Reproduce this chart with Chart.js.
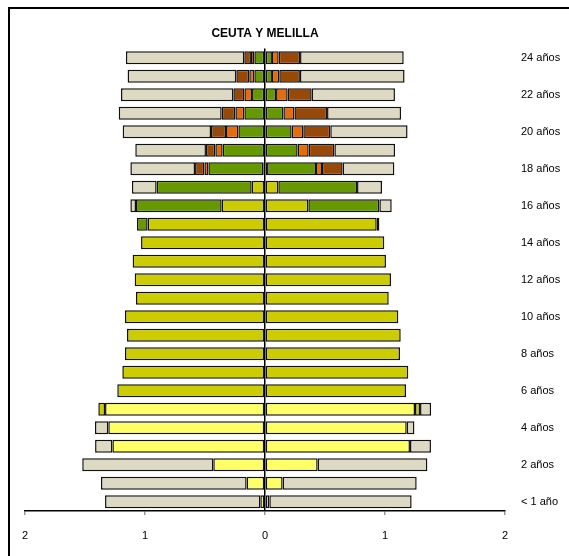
<!DOCTYPE html>
<html>
<head>
<meta charset="utf-8">
<script src="https://cdn.jsdelivr.net/npm/chart.js@4"></script>
<style>
  html, body { margin: 0; padding: 0; background: #fff; }
  #wrap { position: relative; width: 569px; height: 556px; }
</style>
</head>
<body>
<div id="wrap"><canvas id="pyramid" width="569" height="556"></canvas></div>
<script>
// Pyramid data: ages from < 1 to 24, left side = hombres, right side = mujeres
const ages = ['< 1 año', '1 año', '2 años', '3 años', '4 años', '5 años', '6 años', '7 años', '8 años',
    '9 años', '10 años', '11 años', '12 años', '13 años', '14 años', '15 años', '16 años', '17 años',
    '18 años', '19 años', '20 años', '21 años', '22 años', '23 años', '24 años'];

const levels = ['Infantil', 'Primaria', 'ESO', 'Bachillerato', 'FP', 'No escolarizado'];
const levelColors = ['#FFFF66', '#CCCC00', '#669900', '#E46C0A', '#984807', '#DDD9C3'];

// hombres (left)
const menInfantil  = [0.039, 0.153, 0.431, 1.272, 1.306, 1.333, 0, 0, 0, 0, 0, 0, 0, 0, 0, 0, 0, 0, 0, 0, 0, 0, 0, 0, 0];
const menPrimaria  = [0, 0, 0, 0, 0, 0.056, 1.231, 1.189, 1.167, 1.150, 1.167, 1.075, 1.086, 1.103, 1.033, 0.978, 0.361, 0.111, 0.014, 0, 0, 0, 0, 0, 0];
const menESO       = [0, 0, 0, 0, 0, 0, 0, 0, 0, 0, 0, 0, 0, 0, 0, 0.089, 0.714, 0.792, 0.458, 0.353, 0.222, 0.172, 0.108, 0.089, 0.089];
const menBach      = [0, 0, 0, 0, 0, 0, 0, 0, 0, 0, 0, 0, 0, 0, 0, 0, 0, 0, 0.033, 0.061, 0.103, 0.075, 0.064, 0.042, 0.028];
const menFP        = [0, 0, 0, 0, 0, 0, 0, 0, 0, 0, 0, 0, 0, 0, 0, 0, 0, 0, 0.078, 0.078, 0.125, 0.114, 0.092, 0.108, 0.056];
const menOtros     = [1.294, 1.214, 1.092, 0.144, 0.111, 0, 0, 0, 0, 0, 0, 0, 0, 0, 0, 0, 0.047, 0.206, 0.539, 0.589, 0.736, 0.858, 0.936, 0.906, 0.986];

// mujeres (right)
const womenInfantil = [0.036, 0.147, 0.439, 1.208, 1.181, 1.250, 0, 0, 0, 0, 0, 0, 0, 0, 0, 0, 0, 0, 0, 0, 0, 0, 0, 0, 0];
const womenPrimaria = [0, 0, 0, 0, 0, 0.042, 1.175, 1.194, 1.125, 1.131, 1.111, 1.031, 1.050, 1.008, 0.994, 0.931, 0.361, 0.111, 0.017, 0, 0, 0, 0, 0, 0];
const womenESO      = [0, 0, 0, 0, 0, 0, 0, 0, 0, 0, 0, 0, 0, 0, 0, 0.022, 0.592, 0.656, 0.408, 0.272, 0.222, 0.153, 0.092, 0.058, 0.058];
const womenBach     = [0, 0, 0, 0, 0, 0, 0, 0, 0, 0, 0, 0, 0, 0, 0, 0, 0, 0, 0.050, 0.092, 0.097, 0.092, 0.097, 0.061, 0.056];
const womenFP       = [0, 0, 0, 0, 0, 0, 0, 0, 0, 0, 0, 0, 0, 0, 0, 0, 0, 0, 0.172, 0.214, 0.225, 0.272, 0.200, 0.172, 0.178];
const womenOtros    = [1.186, 1.117, 0.914, 0.175, 0.064, 0.092, 0, 0, 0, 0, 0, 0, 0, 0, 0, 0, 0.103, 0.208, 0.431, 0.506, 0.644, 0.617, 0.694, 0.872, 0.864];

const xTicks = [-2, -1, 0, 1, 2];

const menSeries = [menInfantil, menPrimaria, menESO, menBach, menFP, menOtros];
const womenSeries = [womenInfantil, womenPrimaria, womenESO, womenBach, womenFP, womenOtros];

function makeSet(label, values, color, sign) {
    return {
        label: label,
        data: values.map(v => v === 0 ? null : sign * v),
        backgroundColor: color,
        borderColor: '#111',
        borderWidth: 1.5,
        borderSkipped: false,
        barPercentage: 0.7,
        categoryPercentage: 1.0,
        stack: 'pyr'
    };
}

const datasets = [];
levels.forEach((name, i) => {
    datasets.push(makeSet(name + ' (H)', menSeries[i], levelColors[i], -1));
    datasets.push(makeSet(name + ' (M)', womenSeries[i], levelColors[i], 1));
});

// frame lines along the top and left edges
const framePlugin = {
    id: 'frame',
    afterDraw(chart) {
        const c = chart.ctx;
        c.save();
        c.strokeStyle = '#000';
        c.lineWidth = 2;
        c.beginPath();
        c.moveTo(9, 556);
        c.lineTo(9, 8);
        c.lineTo(569, 8);
        c.stroke();
        c.restore();
    }
};

Chart.defaults.font.family = '"Liberation Sans", Arial, sans-serif';
Chart.defaults.color = '#000';

new Chart(document.getElementById('pyramid'), {
    type: 'bar',
    data: { labels: ages, datasets: datasets },
    plugins: [framePlugin],
    options: {
        indexAxis: 'y',
        responsive: false,
        animation: false,
        layout: { padding: { left: 25, right: 0, top: 0, bottom: 0 } },
        plugins: {
            legend: { display: false },
            tooltip: { enabled: false },
            title: {
                display: true,
                text: 'CEUTA Y MELILLA',
                fullSize: false,
                font: { size: 12, weight: 'bold' },
                color: '#000',
                padding: { top: 26, bottom: 8 }
            }
        },
        scales: {
            x: {
                stacked: true,
                min: -2,
                max: 2,
                afterBuildTicks: function(scale) {
                    scale.ticks = xTicks.map(v => ({ value: v }));
                },
                afterFit: function(scale) { scale.height = 45; },
                ticks: {
                    padding: 14,
                    font: { size: 11 },
                    callback: function(value) { return Math.abs(value); }
                },
                grid: {
                    color: ctx => (ctx.tick && ctx.tick.value === 0) ? '#000' : 'rgba(0,0,0,0)',
                    lineWidth: 1.5,
                    tickColor: '#999',
                    tickLength: 4
                },
                border: { color: '#000', width: 1.5 }
            },
            y: {
                stacked: true,
                reverse: true,
                position: 'right',
                afterFit: function(scale) { scale.width = 64; },
                grid: { display: false, drawTicks: false },
                border: { display: false },
                ticks: {
                    autoSkip: false,
                    padding: 16,
                    font: { size: 11 },
                    callback: function(value, index) {
                        return index % 2 === 0 ? ages[index] : '';
                    }
                }
            }
        }
    }
});
</script>
</body>
</html>
